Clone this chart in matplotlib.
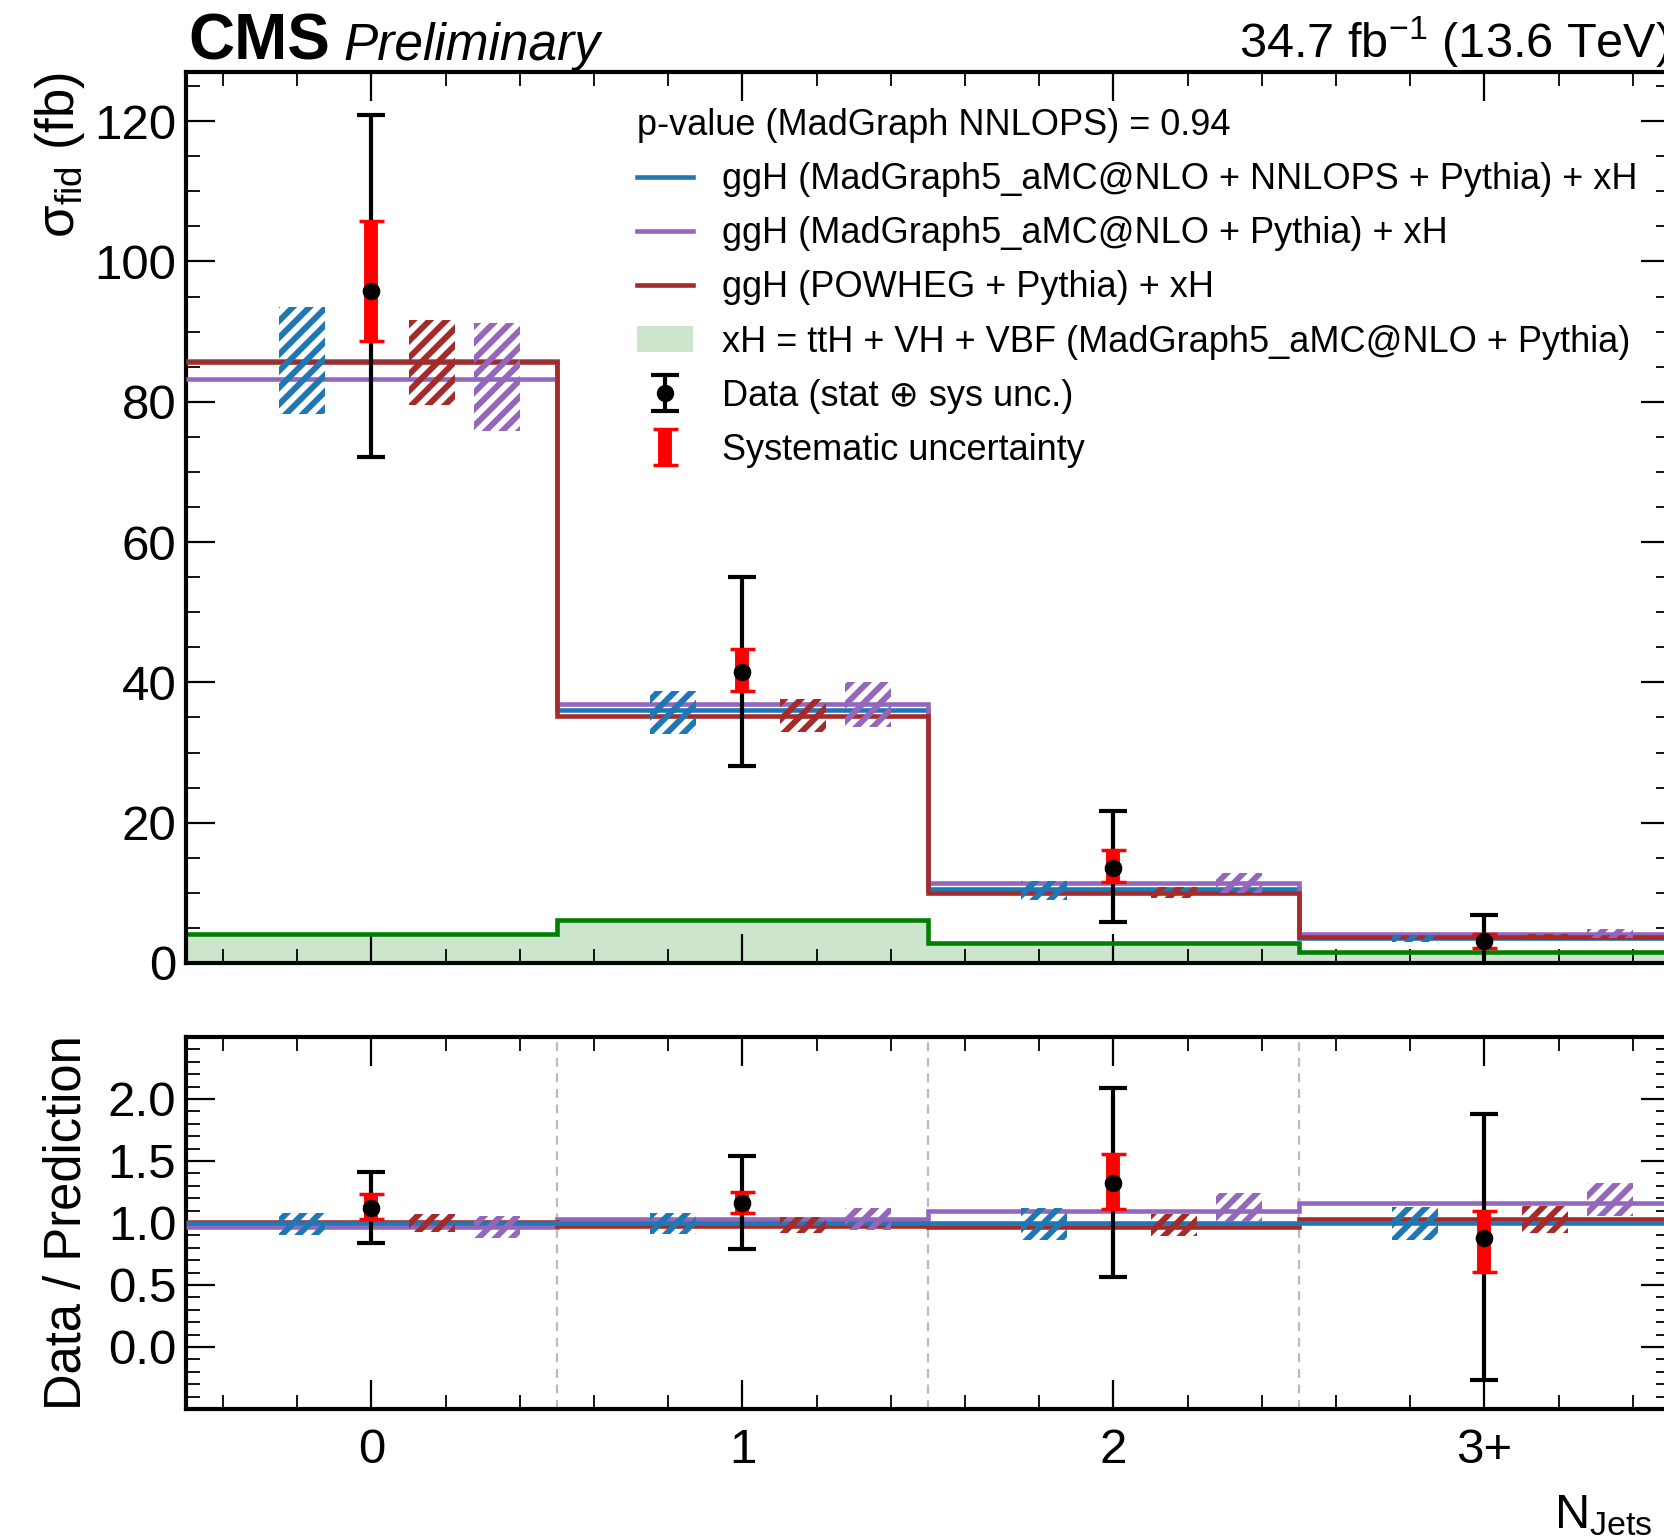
import matplotlib
matplotlib.use('Agg')
import matplotlib.pyplot as plt
from matplotlib.ticker import MultipleLocator, FixedLocator, FormatStrFormatter
from matplotlib.patches import Patch
from matplotlib.lines import Line2D

DPI = 100
K = 100.0 / DPI

plt.rcParams['font.family'] = ['Liberation Sans', 'DejaVu Sans']
plt.rcParams['mathtext.fontset'] = 'custom'
plt.rcParams['mathtext.rm'] = 'Liberation Sans'
plt.rcParams['mathtext.it'] = 'Liberation Sans:italic'
plt.rcParams['mathtext.bf'] = 'Liberation Sans:bold'
plt.rcParams['hatch.linewidth'] = 4.3 * K

# ---------------- data ----------------
bins = [0, 1, 2, 3]
edges = [-0.5, 0.5, 1.5, 2.5, 3.5]
xtick_labels = ['0', '1', '2', '3+']

data_xs = [95.8, 41.5, 13.6, 3.1]
data_tot_lo = [72.1, 28.1, 5.8, -1.0]
data_tot_hi = [120.8, 55.0, 21.6, 6.8]
data_sys_lo = [88.7, 38.7, 11.5, 2.1]
data_sys_hi = [105.7, 44.8, 16.1, 4.1]

nnlops_xs = [85.8, 36.0, 10.6, 3.5]
nnlops_lo = [78.2, 32.6, 9.0, 3.0]
nnlops_hi = [93.5, 38.8, 11.7, 4.0]
mg5_xs = [83.2, 36.9, 11.35, 4.2]
mg5_lo = [75.8, 33.7, 10.0, 3.6]
mg5_hi = [91.2, 40.0, 12.8, 4.8]
powheg_xs = [85.7, 35.2, 10.0, 3.7]
powheg_lo = [79.5, 32.9, 9.2, 3.3]
powheg_hi = [91.6, 37.6, 10.9, 4.2]
xh_xs = [4.1, 6.2, 2.8, 1.6]

ratio_data = [1.12, 1.16, 1.32, 0.88]
ratio_tot_lo = [0.84, 0.79, 0.565, -0.27]
ratio_tot_hi = [1.41, 1.54, 2.09, 1.88]
ratio_sys_lo = [1.03, 1.08, 1.115, 0.605]
ratio_sys_hi = [1.23, 1.25, 1.56, 1.10]

ratio_nnlops = [1.0, 1.0, 1.0, 1.0]
ratio_nnlops_lo = [0.906, 0.91, 0.86, 0.86]
ratio_nnlops_hi = [1.083, 1.083, 1.125, 1.13]
ratio_mg5 = [0.97, 1.035, 1.10, 1.16]
ratio_mg5_lo = [0.88, 0.94, 1.01, 1.06]
ratio_mg5_hi = [1.06, 1.12, 1.245, 1.325]
ratio_powheg = [1.01, 0.975, 0.97, 1.035]
ratio_powheg_lo = [0.927, 0.92, 0.895, 0.92]
ratio_powheg_hi = [1.07, 1.05, 1.07, 1.14]

pvalue_title = 'p-value (MadGraph NNLOPS) = 0.94'
label_nnlops = 'ggH (MadGraph5_aMC@NLO + NNLOPS + Pythia) + xH'
label_mg5 = 'ggH (MadGraph5_aMC@NLO + Pythia) + xH'
label_powheg = 'ggH (POWHEG + Pythia) + xH'
label_xh = 'xH = ttH + VH + VBF (MadGraph5_aMC@NLO + Pythia)'
label_data = 'Data (stat \u2295 sys unc.)'
label_sys = 'Systematic uncertainty'

# ---------------- style ----------------
c_blue = '#1f77b4'
c_purple = '#9467bd'
c_brown = '#a52a2a'
c_green = '#008000'
fill_green = (0.0, 0.5, 0.0, 0.2)
LW = 3.3 * K
MS = 11.5 * K

W, H = 1665, 1540
fig = plt.figure(figsize=(W / DPI, H / DPI), dpi=DPI)
L, R = 186, 1670
ax1 = fig.add_axes([L / W, 1 - 963 / H, (R - L) / W, (963 - 72) / H])
ax2 = fig.add_axes([L / W, 1 - 1409 / H, (R - L) / W, (1409 - 1037) / H])

BOXW = 0.125


def draw_boxes(ax, lows, highs, color, off):
    for b, lo, hi in zip(bins, lows, highs):
        ax.bar(b + off, hi - lo, width=BOXW, bottom=lo, align='edge',
               fill=False, hatch='//', edgecolor=color, linewidth=0, zorder=4)


def draw_data(ax, xs, tlo, thi, slo, shi):
    terr = [[d - lo for d, lo in zip(xs, tlo)], [hi - d for d, hi in zip(xs, thi)]]
    serr = [[d - lo for d, lo in zip(xs, slo)], [hi - d for d, hi in zip(xs, shi)]]
    hd = ax.errorbar(bins, xs, yerr=terr, fmt='o', color='k', ms=MS,
                     lw=3 * K, capsize=10 * K, capthick=3 * K, zorder=6)
    hs = ax.errorbar(bins, xs, yerr=serr, fmt='none', ecolor='red',
                     lw=10 * K, capsize=9 * K, capthick=2.5 * K, zorder=7)
    ax.plot(bins, xs, 'o', color='k', ms=MS, zorder=8)
    return hd, hs


# ---------------- top panel ----------------
ax1.stairs(xh_xs, edges, baseline=0, fill=True, facecolor=fill_green,
           edgecolor='none', zorder=1)
ax1.stairs(xh_xs, edges, baseline=None, color=c_green, lw=LW, zorder=2)
ax1.stairs(nnlops_xs, edges, baseline=None, color=c_blue, lw=LW, zorder=3)
ax1.stairs(mg5_xs, edges, baseline=None, color=c_purple, lw=LW, zorder=3)
ax1.stairs(powheg_xs, edges, baseline=None, color=c_brown, lw=LW, zorder=3)

draw_boxes(ax1, nnlops_lo, nnlops_hi, c_blue, -0.25)
draw_boxes(ax1, powheg_lo, powheg_hi, c_brown, 0.10)
draw_boxes(ax1, mg5_lo, mg5_hi, c_purple, 0.275)

h_data, h_sys = draw_data(ax1, data_xs, data_tot_lo, data_tot_hi,
                          data_sys_lo, data_sys_hi)

ax1.set_xlim(-0.5, 3.5)
ax1.set_ylim(0, 127)
ax1.xaxis.set_major_locator(FixedLocator(bins))
ax1.xaxis.set_minor_locator(MultipleLocator(0.2))
ax1.yaxis.set_major_locator(MultipleLocator(20))
ax1.yaxis.set_minor_locator(MultipleLocator(5))
ax1.set_xticklabels([])
ax1.set_ylabel('\u03c3$_{\\mathrm{fid}}$ (fb)', fontsize=38 * K, loc='top')
ax1.yaxis.set_label_coords(-0.067, 1.0)

# legend
h_lines = [Line2D([], [], color=c, lw=LW) for c in (c_blue, c_purple, c_brown)]
h_xh = Patch(facecolor=fill_green, edgecolor='none')
leg = ax1.legend(h_lines + [h_xh, h_data, h_sys],
                 [label_nnlops, label_mg5, label_powheg, label_xh, label_data, label_sys],
                 title=pvalue_title, title_fontsize=26 * K, fontsize=26 * K,
                 loc='upper left', bbox_to_anchor=(637 / W, 1 - 108 / H),
                 bbox_transform=fig.transFigure, frameon=False,
                 borderpad=0, borderaxespad=0, handlelength=1.55,
                 handletextpad=0.8, labelspacing=0.53, alignment='left')
leg.set_zorder(10)

# ---------------- ratio panel ----------------
for xv in edges[1:-1]:
    ax2.axvline(xv, color='#bbbbbb', lw=1.6 * K, ls=(0, (4, 3)), zorder=0)
ax2.stairs(ratio_mg5, edges, baseline=None, color=c_purple, lw=LW, zorder=3)
ax2.stairs(ratio_powheg, edges, baseline=None, color=c_brown, lw=LW, zorder=3)
ax2.stairs(ratio_nnlops, edges, baseline=None, color=c_blue, lw=LW, zorder=3)
draw_boxes(ax2, ratio_nnlops_lo, ratio_nnlops_hi, c_blue, -0.25)
draw_boxes(ax2, ratio_powheg_lo, ratio_powheg_hi, c_brown, 0.10)
draw_boxes(ax2, ratio_mg5_lo, ratio_mg5_hi, c_purple, 0.275)

draw_data(ax2, ratio_data, ratio_tot_lo, ratio_tot_hi, ratio_sys_lo, ratio_sys_hi)

ax2.set_xlim(-0.5, 3.5)
ax2.set_ylim(-0.5, 2.5)
ax2.xaxis.set_major_locator(FixedLocator(bins))
ax2.xaxis.set_minor_locator(MultipleLocator(0.2))
ax2.set_xticklabels(xtick_labels)
ax2.yaxis.set_major_locator(FixedLocator([0.0, 0.5, 1.0, 1.5, 2.0]))
ax2.yaxis.set_minor_locator(MultipleLocator(0.1))
ax2.yaxis.set_major_formatter(FormatStrFormatter('%.1f'))
ax2.set_ylabel('Data / Prediction', fontsize=36.5 * K)
ax2.yaxis.set_label_coords(-0.0635, 0.5)
ax2.set_xlabel('N$_{\\mathrm{Jets}}$', fontsize=35 * K, loc='right')
ax2.xaxis.set_label_coords(0.9885, -0.227)

for ax in (ax1, ax2):
    for s in ax.spines.values():
        s.set_linewidth(3 * K)
    ax.tick_params(which='both', direction='in', top=True, right=True,
                   labelsize=35.5 * K)
    ax.tick_params(which='major', length=21 * K, width=1.6 * K)
    ax.tick_params(which='minor', length=10 * K, width=1.3 * K)
    ax.tick_params(axis='y', pad=7 * K)
    ax.tick_params(axis='x', pad=14 * K)

# ---------------- header texts ----------------
fig.text(188 / W, 1 - 60 / H, 'CMS', fontsize=46 * K, fontweight='bold',
         ha='left', va='baseline')
fig.text(343 / W, 1 - 60 / H, 'Preliminary', fontsize=37 * K, style='italic',
         ha='left', va='baseline')
fig.text(R / W, 1 - 58 / H, '34.7 fb$^{-1}$ (13.6 TeV)', fontsize=35 * K,
         ha='right', va='baseline')

fig.savefig('out.png', dpi=DPI)
